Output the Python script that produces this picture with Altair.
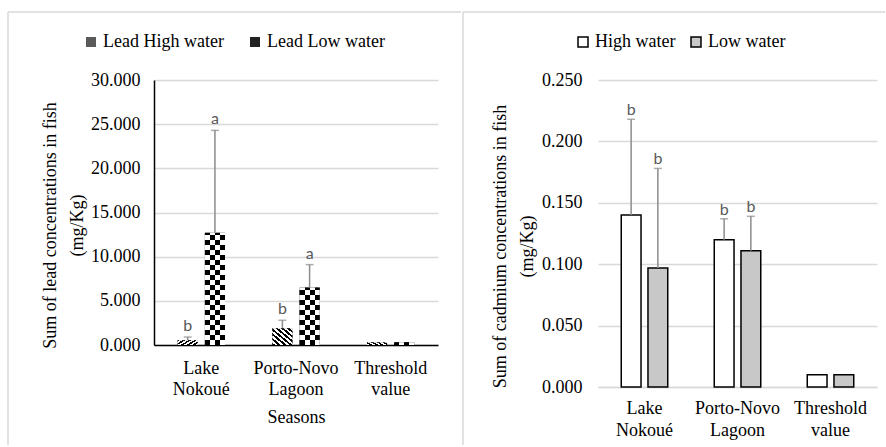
import altair as alt
import pandas as pd

# ---------------- data ----------------
sites = ["Lake Nokoué", "Porto-Novo Lagoon", "Threshold value"]
series_pb = ["Lead High water", "Lead Low water"]
series_cd = ["High water", "Low water"]

pb_high = [0.55, 1.9, 0.3]
pb_high_err = [0.35, 0.9, None]
pb_high_letter = ["b", "b", ""]
pb_low = [12.7, 6.5, 0.3]
pb_low_err = [11.6, 2.6, None]
pb_low_letter = ["a", "a", ""]

cd_high = [0.140, 0.120, 0.010]
cd_high_err = [0.078, 0.017, None]
cd_high_letter = ["b", "b", ""]
cd_low = [0.097, 0.111, 0.010]
cd_low_err = [0.081, 0.028, None]
cd_low_letter = ["b", "b", ""]

pb_ticks = [0, 5, 10, 15, 20, 25, 30]
cd_ticks = [0, 0.05, 0.10, 0.15, 0.20, 0.25]


def table(series, highs, herr, hlet, lows, lerr, llet):
    rows = []
    for i, s in enumerate(sites):
        for name, v, e, l in [(series[0], highs[i], herr[i], hlet[i]),
                              (series[1], lows[i], lerr[i], llet[i])]:
            rows.append(dict(site=s, series=name, value=v, err=e,
                             top=(v + e) if e is not None else None, letter=l))
    return pd.DataFrame(rows)


pb = table(series_pb, pb_high, pb_high_err, pb_high_letter, pb_low, pb_low_err, pb_low_letter)
cd = table(series_cd, cd_high, cd_high_err, cd_high_letter, cd_low, cd_low_err, cd_low_letter)

# checkerboard rows for "Lead Low water" (cell of ~5 px)
PB_H = 265
CD_H = 307
cell = 30 * 5 / PB_H
chk = []
for i, s in enumerate(sites):
    v = pb_low[i]
    k = 0
    while k * cell < v - 1e-9:
        chk.append(dict(site=s, series=series_pb[1], y0=k * cell,
                        y1=min((k + 1) * cell, v), parity=k % 2))
        k += 1
chk = pd.DataFrame(chk)
one = pd.DataFrame({"k": [0]})


def stripes(n, x1, y1, x2, y2, c1="black", c2="white"):
    stops = []
    for i in range(n):
        c = c1 if i % 2 == 0 else c2
        stops.append({"offset": i / n, "color": c})
        stops.append({"offset": (i + 1) / n, "color": c})
    return {"gradient": "linear", "x1": x1, "y1": y1, "x2": x2, "y2": y2, "stops": stops}


SERIF = "Liberation Serif, Times New Roman, serif"
GRID = "#d9d9d9"
ERR = "#8c8c8c"

# ---------------- left chart (lead) ----------------
x_pb = alt.X("site:N", scale=alt.Scale(domain=sites, paddingInner=0.5, paddingOuter=0.25),
             axis=alt.Axis(title="Seasons", labelAngle=0, labelExpr="split(datum.label, ' ')",
                           labelLineHeight=21, labelPadding=14, ticks=False, labelOverlap=False,
                           domainColor="black", domainWidth=1.5, titlePadding=10))
xo_pb = alt.XOffset("series:N", scale=alt.Scale(domain=series_pb, paddingInner=0.26, paddingOuter=0))
pb_axis = alt.Axis(values=pb_ticks, format=".3f",
                   title=["Sum of lead concentrations in fish", "(mg/Kg)"],
                   titleLineHeight=27, titlePadding=4, titleY=145,
                   grid=True, gridColor=GRID, gridWidth=1.5,
                   domain=True, domainColor="black", domainWidth=1.5,
                   ticks=False, labelPadding=14)
y_scale_pb = alt.Scale(domain=[0, 30], nice=False)

base_pb = alt.Chart(pb)
A = base_pb.mark_bar().encode(
    x=x_pb, xOffset=xo_pb,
    y=alt.Y("value:Q", scale=y_scale_pb, axis=pb_axis),
    fill=alt.Fill("series:N", scale=alt.Scale(domain=series_pb, range=["#5a5a5a", "#222222"]),
                  legend=alt.Legend(orient="none", legendX=-72, legendY=-47, direction="horizontal",
                                    title=None, symbolType="square", symbolSize=100,
                                    symbolStrokeWidth=0, labelFont=SERIF, labelFontSize=18,
                                    labelColor="black", columnPadding=22, labelOffset=3)),
)
B = base_pb.transform_filter(alt.datum.series == series_pb[0]).mark_bar(
    fill=stripes(14, 0, 1, 1, 0)).encode(
    x=x_pb, xOffset=xo_pb, y=alt.Y("value:Q", scale=y_scale_pb, axis=pb_axis))
C1 = alt.Chart(chk).transform_filter(alt.datum.parity == 0).mark_bar(
    fill=stripes(4, 0, 0, 1, 0, "black", "white")).encode(
    x=x_pb, xOffset=xo_pb, y=alt.Y("y0:Q", scale=y_scale_pb, axis=pb_axis), y2="y1:Q")
C2 = alt.Chart(chk).transform_filter(alt.datum.parity == 1).mark_bar(
    fill=stripes(4, 0, 0, 1, 0, "white", "black")).encode(
    x=x_pb, xOffset=xo_pb, y=alt.Y("y0:Q", scale=y_scale_pb, axis=pb_axis), y2="y1:Q")
errs_pb = base_pb.transform_filter("isValid(datum.err)")
D = errs_pb.mark_rule(color=ERR, strokeWidth=1.5).encode(
    x=x_pb, xOffset=xo_pb, y=alt.Y("value:Q", scale=y_scale_pb, axis=pb_axis), y2="top:Q")
E = errs_pb.mark_tick(color=ERR, thickness=1.5, size=8).encode(
    x=x_pb, xOffset=xo_pb, y=alt.Y("top:Q", scale=y_scale_pb, axis=pb_axis))
F = errs_pb.mark_text(font="Lato", fontSize=16, color="#595959", baseline="alphabetic", dy=-6).encode(
    x=x_pb, xOffset=xo_pb, y=alt.Y("top:Q", scale=y_scale_pb, axis=pb_axis), text="letter:N")
G1 = alt.Chart(one).mark_rule(color=GRID, strokeWidth=1.5).encode(
    x=alt.value(-146), y=alt.value(-68), y2=alt.value(365))
G2 = alt.Chart(one).mark_rule(color=GRID, strokeWidth=1.5).encode(
    x=alt.value(-146), x2=alt.value(307), y=alt.value(-68))

left = alt.layer(A, B, C1, C2, D, E, F, G1, G2).properties(width=284, height=PB_H)

# ---------------- right chart (cadmium) ----------------
x_cd = alt.X("site:N", scale=alt.Scale(domain=sites, paddingInner=0.5, paddingOuter=0.25),
             axis=alt.Axis(title=None, labelAngle=0, labelExpr="split(datum.label, ' ')",
                           labelLineHeight=22, labelPadding=12, ticks=False, labelOverlap=False,
                           domainColor=GRID, domainWidth=1.5))
xo_cd = alt.XOffset("series:N", scale=alt.Scale(domain=series_cd, paddingInner=0.26, paddingOuter=0))
cd_axis = alt.Axis(values=cd_ticks, format=".3f",
                   title=["Sum of cadmium concentrations in fish", "(mg/Kg)"],
                   titleLineHeight=27, titlePadding=5, titleY=166,
                   grid=True, gridColor=GRID, gridWidth=1.5,
                   domain=False, ticks=False, labelPadding=16)
y_scale_cd = alt.Scale(domain=[0, 0.25], nice=False)

base_cd = alt.Chart(cd)
RA = base_cd.mark_bar(stroke="black", strokeWidth=1.5).encode(
    x=x_cd, xOffset=xo_cd,
    y=alt.Y("value:Q", scale=y_scale_cd, axis=cd_axis),
    fill=alt.Fill("series:N", scale=alt.Scale(domain=series_cd, range=["white", "#c8c8c8"]),
                  legend=alt.Legend(orient="none", legendX=-24, legendY=-47, direction="horizontal",
                                    title=None, symbolType="square", symbolSize=100,
                                    symbolStrokeColor="black", symbolStrokeWidth=1.5,
                                    labelFont=SERIF, labelFontSize=18, labelColor="black",
                                    columnPadding=11, labelOffset=3)),
)
errs_cd = base_cd.transform_filter("isValid(datum.err)")
RD = errs_cd.mark_rule(color=ERR, strokeWidth=1.5).encode(
    x=x_cd, xOffset=xo_cd, y=alt.Y("value:Q", scale=y_scale_cd, axis=cd_axis), y2="top:Q")
RE = errs_cd.mark_tick(color=ERR, thickness=1.5, size=8).encode(
    x=x_cd, xOffset=xo_cd, y=alt.Y("top:Q", scale=y_scale_cd, axis=cd_axis))
RF = errs_cd.mark_text(font="Lato", fontSize=16, color="#595959", baseline="alphabetic", dy=-4).encode(
    x=x_cd, xOffset=xo_cd, y=alt.Y("top:Q", scale=y_scale_cd, axis=cd_axis), text="letter:N")
RG1 = alt.Chart(one).mark_rule(color=GRID, strokeWidth=1.5).encode(
    x=alt.value(-135), y=alt.value(-68), y2=alt.value(365))
RG2 = alt.Chart(one).mark_rule(color=GRID, strokeWidth=1.5).encode(
    x=alt.value(-135), x2=alt.value(287), y=alt.value(-68))

right = alt.layer(RA, RD, RE, RF, RG1, RG2).properties(width=279, height=CD_H)

chart = alt.hconcat(left, right, spacing=0).resolve_scale(
    fill="independent", x="independent", y="independent", xOffset="independent"
).properties(
    padding={"left": 7, "top": 11, "right": 0, "bottom": 0}
).configure_view(stroke=None).configure_axis(
    labelFont=SERIF, labelFontSize=18, labelColor="black",
    titleFont=SERIF, titleFontSize=18, titleFontWeight="normal", titleColor="black",
)

chart.save("out.html", embed_options={"renderer": "svg", "actions": False})
